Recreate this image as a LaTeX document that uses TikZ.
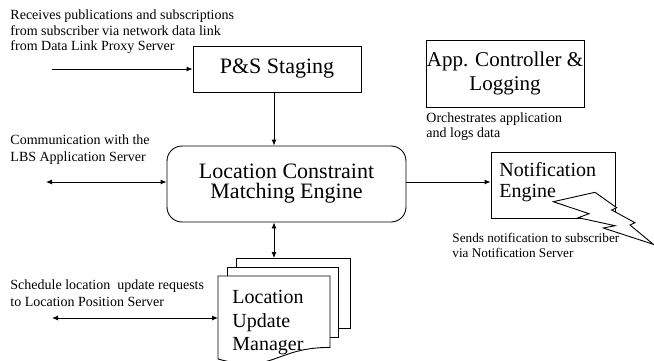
\documentclass[tikz,border=0pt]{standalone}
\usepackage{fontspec}
\setmainfont{Liberation Serif}
\usetikzlibrary{arrows.meta}
\begin{document}
\begin{tikzpicture}[x=1pt,y=-1pt, line width=0.9pt,
  box/.style={draw, rectangle, inner sep=0pt, align=center},
  note/.style={inner sep=0pt, anchor=north west, align=left, font=\fontsize{14}{15.5}\selectfont},
  big/.style={inner sep=0pt, anchor=north west, align=left},
  arr/.style={-{Latex[length=6pt,width=5pt]}},
  darr/.style={{Latex[length=6pt,width=5pt]}-{Latex[length=6pt,width=5pt]}},
  doc/.style={draw, fill=white}
]
\useasboundingbox (0,0) rectangle (654,360);

% main boxes
\node[box, minimum width=168pt, minimum height=46pt, font=\fontsize{22}{24}\selectfont] (ps) at (277,69) {P\&S Staging};
\node[box, minimum width=158pt, minimum height=67pt, font=\fontsize{21}{24}\selectfont] (app) at (505,73.5) {App. Controller \&\\Logging};
\node[box, rounded corners=15pt, minimum width=239pt, minimum height=76pt, font=\fontsize{22}{20}\selectfont] (eng) at (286.5,184) {Location Constraint\\Matching Engine};
\node[box, minimum width=124pt, minimum height=66pt] (ne) at (553,185) {};
\node[big, font=\fontsize{20}{21}\selectfont] (net) at (499,162) {Notification\\Engine};

% lightning bolt
\draw[doc] (553.3,201.7) -- (595,192.3) -- (616.7,207.7) -- (611.7,210) -- (635,222.7) -- (630,225) -- (653.3,244.3) -- (603.3,228) -- (615,225.7) -- (578.3,217.7) -- (589,213.7) -- cycle;

% location update manager (multi-document)
\draw[doc] (236,258) rectangle (350,328);
\draw[doc] (227,267) rectangle (338,337);
\draw[doc] (218,276) -- (330,276) -- (330,347.4) .. controls (274,347.4) and (274,374.6) .. (218,359) -- cycle;
\node[big, font=\fontsize{20}{23.5}\selectfont] (lum) at (232,290) {Location\\Update\\Manager};
\coordinate (lumtop) at (274,258);
\coordinate (lumleft) at (218,318);

% free ends
\coordinate (in1) at (52,69);
\coordinate (c1) at (46,182);
\coordinate (c2) at (52,318);
\coordinate (vx) at (274,0);

% connectors
\draw[arr] (in1) -- (ps.west);
\draw[arr] (ps.south -| vx) -- (eng.north -| vx);
\draw[darr] (c1) -- (c1 -| eng.west);
\draw[arr] (eng.east |- c1) -- (ne.west |- c1);
\draw[darr] (eng.south -| vx) -- (lumtop);
\draw[darr] (c2) -- (lumleft);

% notes
\node[note] (t1) at (10,9.5) {Receives publications and subscriptions\\from subscriber via network data link\\from Data Link Proxy Server};
\node[note, font=\fontsize{14}{17}\selectfont] (t2) at (10,134.5) {Communication with the\\LBS Application Server};
\node[note] (t3) at (426,112) {Orchestrates application\\and logs data};
\node[note, font=\fontsize{13.2}{15}\selectfont] (t4) at (452,232.5) {Sends notification to subscriber\\via Notification Server};
\node[note, font=\fontsize{14}{16.5}\selectfont] (t5) at (10,279.5) {Schedule location\ \ update requests\\to Location Position Server};
\end{tikzpicture}
\end{document}
